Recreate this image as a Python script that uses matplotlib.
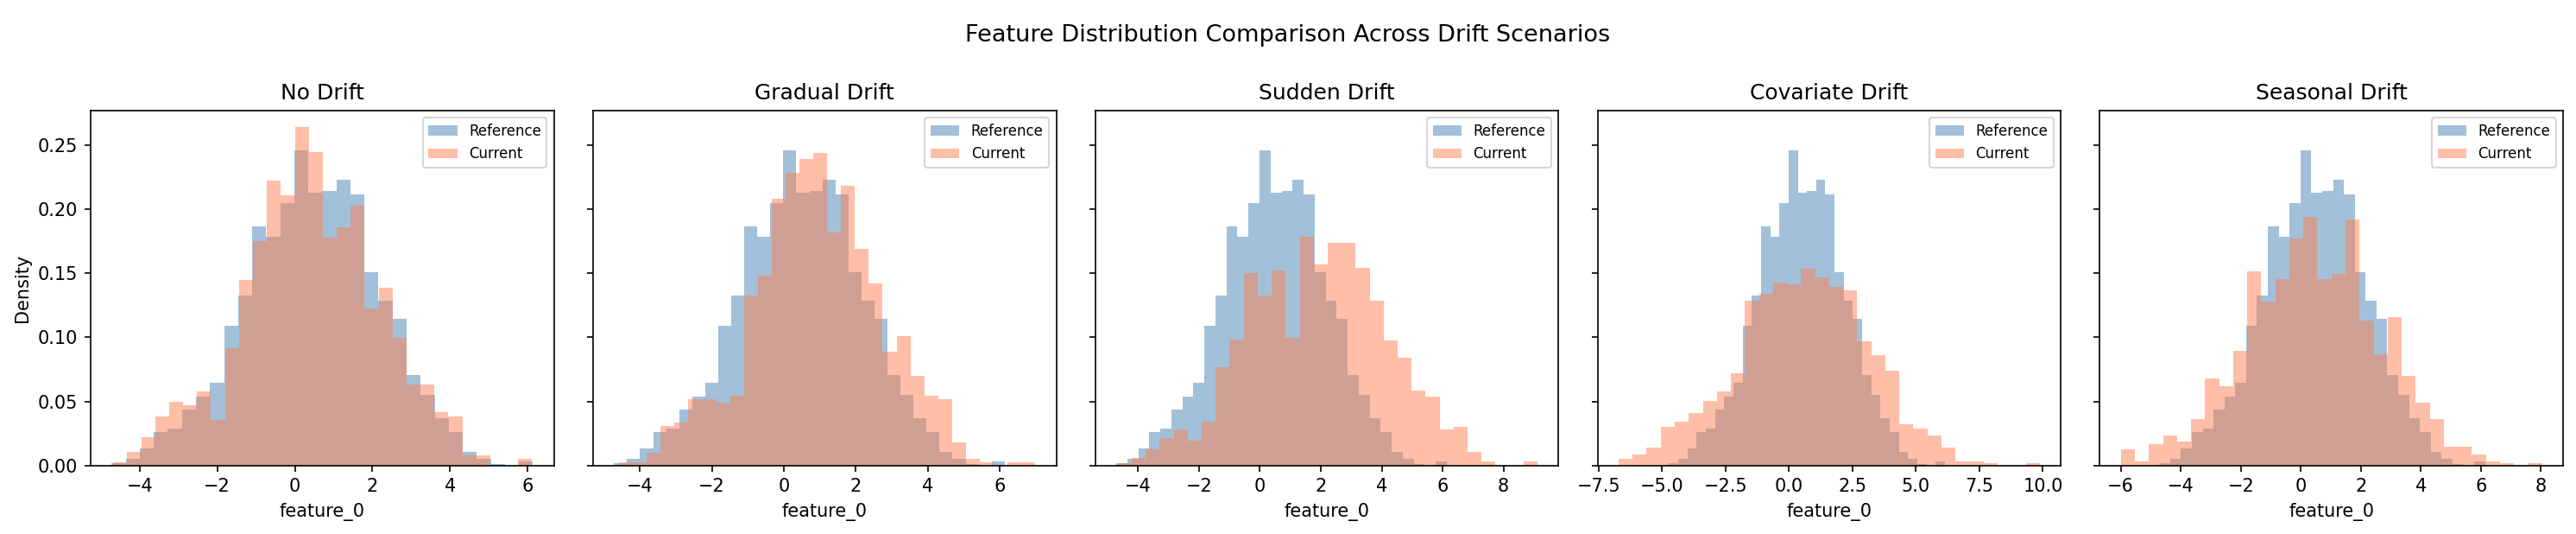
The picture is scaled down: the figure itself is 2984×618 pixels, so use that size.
import numpy as np
import matplotlib
matplotlib.use("Agg")
import matplotlib.pyplot as plt

# reference sample is the same in every panel (density per bin, 30 bins)
ref_range = (-4.72, 6.14)
ref_density = [0.0020, 0.0050, 0.0133, 0.0261, 0.0289, 0.0437, 0.0539, 0.0647, 0.1093, 0.1323,
               0.1864, 0.1783, 0.2047, 0.2459, 0.2128, 0.2142, 0.2229, 0.2115, 0.1506, 0.1283,
               0.1147, 0.0703, 0.0552, 0.0370, 0.0264, 0.0106, 0.0054, 0.0011, 0.0000, 0.0036]

scenarios = ["No Drift", "Gradual Drift", "Sudden Drift", "Covariate Drift", "Seasonal Drift"]

cur_ranges = [(-4.68, 6.12), (-4.58, 6.99), (-4.67, 9.12), (-6.71, 9.88), (-6.00, 8.04)]

cur_no_drift = [0.0023, 0.0104, 0.0221, 0.0383, 0.0498, 0.0469, 0.0577, 0.0358, 0.0917, 0.1445,
                0.1749, 0.2223, 0.2108, 0.2635, 0.2446, 0.1779, 0.1858, 0.2027, 0.1224, 0.1384,
                0.0999, 0.0633, 0.0633, 0.0417, 0.0383, 0.0079, 0.0079, 0.0000, 0.0000, 0.0050]
cur_gradual = [0.0023, 0.0023, 0.0099, 0.0307, 0.0336, 0.0521, 0.0521, 0.0491, 0.0543, 0.1323,
               0.1479, 0.2081, 0.2284, 0.2392, 0.2437, 0.1817, 0.2180, 0.1686, 0.1422, 0.0888,
               0.1012, 0.0701, 0.0546, 0.0518, 0.0180, 0.0054, 0.0023, 0.0000, 0.0023, 0.0023]
cur_sudden = [0.0018, 0.0063, 0.0128, 0.0214, 0.0282, 0.0194, 0.0343, 0.0764, 0.0981, 0.1499,
              0.1323, 0.1519, 0.0999, 0.1783, 0.1567, 0.1736, 0.1736, 0.1540, 0.1283, 0.0978,
              0.0843, 0.0586, 0.0539, 0.0282, 0.0302, 0.0106, 0.0036, 0.0000, 0.0000, 0.0036]
cur_covariate = [0.0050, 0.0086, 0.0140, 0.0302, 0.0343, 0.0410, 0.0505, 0.0579, 0.0721, 0.1283,
                 0.1337, 0.1425, 0.1411, 0.1533, 0.1465, 0.1391, 0.1368, 0.0972, 0.0863, 0.0742,
                 0.0322, 0.0289, 0.0234, 0.0140, 0.0032, 0.0032, 0.0018, 0.0000, 0.0000, 0.0018]
cur_seasonal = [0.0126, 0.0036, 0.0167, 0.0234, 0.0187, 0.0363, 0.0681, 0.0620, 0.0897, 0.1513,
                0.1276, 0.1452, 0.1770, 0.1939, 0.1452, 0.1492, 0.1918, 0.1127, 0.0870, 0.1154,
                0.0701, 0.0491, 0.0363, 0.0147, 0.0147, 0.0086, 0.0036, 0.0018, 0.0000, 0.0018]

current = [cur_no_drift, cur_gradual, cur_sudden, cur_covariate, cur_seasonal]


def draw_hist(ax, rng, dens, **kw):
    edges = np.linspace(rng[0], rng[1], len(dens) + 1)
    centers = (edges[:-1] + edges[1:]) / 2
    ax.hist(centers, bins=edges, weights=dens, **kw)


fig, axes = plt.subplots(1, 5, figsize=(2984 / 150, 618 / 150), dpi=150, sharey=True)
fig.subplots_adjust(left=0.0352, right=0.995, bottom=0.128, top=0.793, wspace=0.084)

for ax, name, rng, dens in zip(axes, scenarios, cur_ranges, current):
    draw_hist(ax, ref_range, ref_density, alpha=0.5, color="steelblue", label="Reference")
    draw_hist(ax, rng, dens, alpha=0.5, color="coral", label="Current")
    ax.set_title(name)
    ax.set_xlabel("feature_0")
    ax.legend(loc="upper right", fontsize=8)

axes[0].set_ylabel("Density")
fig.suptitle("Feature Distribution Comparison Across Drift Scenarios", fontsize=13, y=0.955)

fig.savefig("out.png", dpi=150)
